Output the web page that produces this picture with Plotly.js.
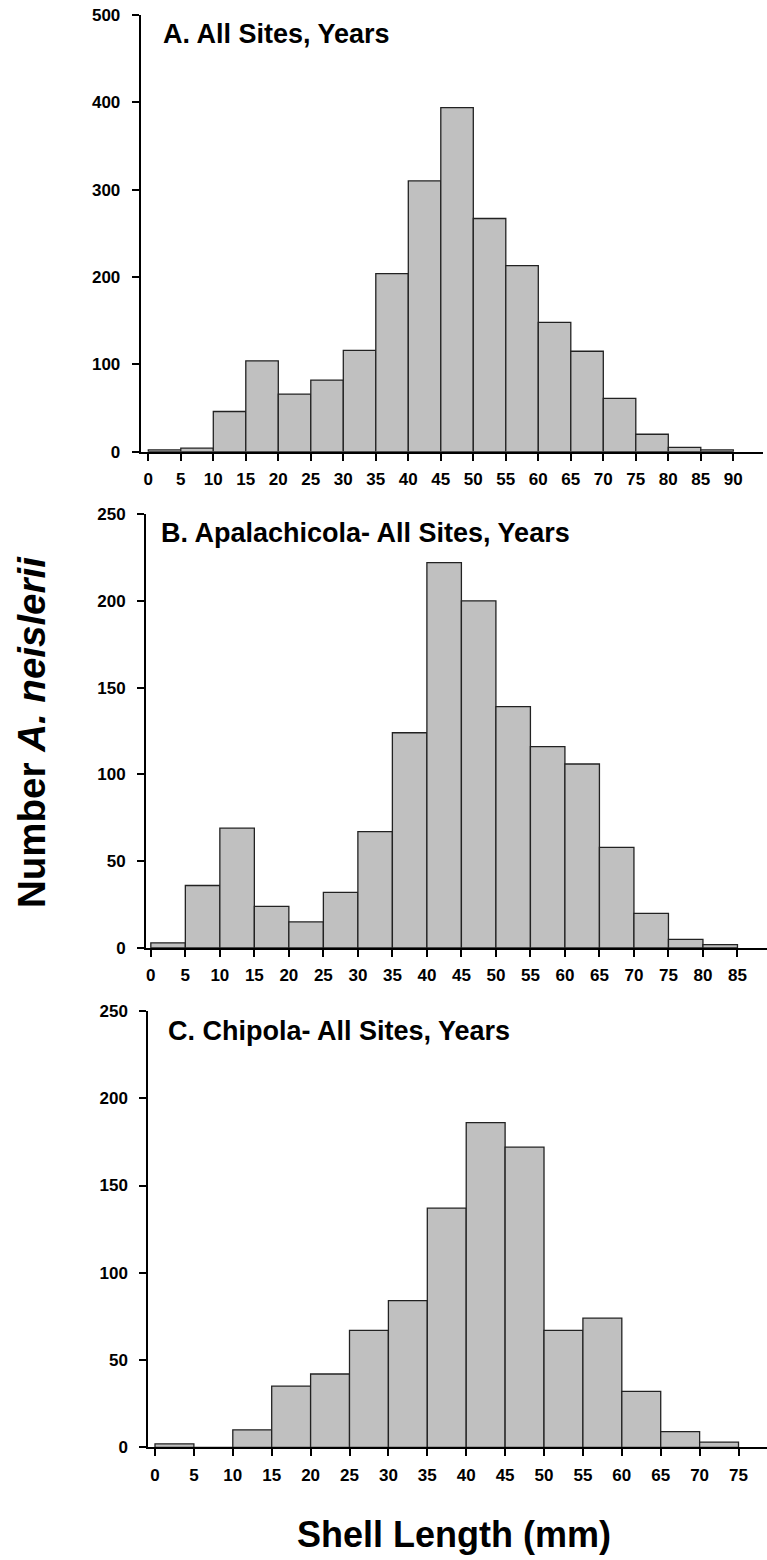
<!DOCTYPE html>
<html>
<head>
<meta charset="utf-8">
<script src="https://cdn.plot.ly/plotly-3.0.1.min.js"></script>
<style>html,body{margin:0;padding:0;background:#fff;}#chart{width:767px;height:1560px;}</style>
</head>
<body>
<div id="chart"></div>
<script>
// Bin starts (mm), 5 mm bins
const binsA = [0,5,10,15,20,25,30,35,40,45,50,55,60,65,70,75,80,85];
const countsA = [2,4,46,104,66,82,116,204,310,394,267,213,148,115,61,20,5,2];
const binsB = [0,5,10,15,20,25,30,35,40,45,50,55,60,65,70,75,80];
const countsB = [3,36,69,24,15,32,67,124,222,200,139,116,106,58,20,5,2];
const binsC = [0,5,10,15,20,25,30,35,40,45,50,55,60,65,70];
const countsC = [2,0,10,35,42,67,84,137,186,172,67,74,32,9,3];

const ticksA = [0,5,10,15,20,25,30,35,40,45,50,55,60,65,70,75,80,85,90];
const ticksB = [0,5,10,15,20,25,30,35,40,45,50,55,60,65,70,75,80,85];
const ticksC = [0,5,10,15,20,25,30,35,40,45,50,55,60,65,70,75];
const yTicksA = [0,100,200,300,400,500];
const yTicksBC = [0,50,100,150,200,250];

const titleA = "A. All Sites, Years";
const titleB = "B. Apalachicola- All Sites, Years";
const titleC = "C. Chipola- All Sites, Years";
const xTitle = "Shell Length (mm)";
const yTitle = "Number <i>A. neislerii</i>";

const FONT = "Liberation Sans, Arial, sans-serif";
const tickFont = {family: FONT, size: 17, color: "#000", weight: "bold"};

function barTrace(x, y, xa, ya) {
  return {
    type: "bar", x: x, y: y, width: 5, offset: 0,
    xaxis: xa, yaxis: ya,
    marker: {color: "#c0c0c0", line: {color: "#222", width: 1.3}},
    hoverinfo: "x+y", showlegend: false
  };
}

function xAx(domain, range, ticks, anchor) {
  return {
    domain: domain, range: range, anchor: anchor,
    tickmode: "array", tickvals: ticks, ticktext: ticks.map(String),
    ticks: "outside", ticklen: 7, tickwidth: 2, tickcolor: "#000",
    showline: true, linecolor: "#000", linewidth: 2,
    showgrid: false, zeroline: false, tickfont: tickFont,
    ticklabelstandoff: 4, fixedrange: true
  };
}
function yAx(domain, range, ticks, anchor) {
  return {
    domain: domain, range: range, anchor: anchor,
    tickmode: "array", tickvals: ticks, ticktext: ticks.map(String),
    ticks: "outside", ticklen: 7, tickwidth: 2, tickcolor: "#000",
    showline: true, linecolor: "#000", linewidth: 2,
    showgrid: false, zeroline: false, tickfont: tickFont,
    ticklabelstandoff: 8, fixedrange: true
  };
}

const H = 1560, W = 767;
const data = [
  barTrace(binsA, countsA, "x", "y"),
  barTrace(binsB, countsB, "x2", "y2"),
  barTrace(binsC, countsC, "x3", "y3")
];

const layout = {
  width: W, height: H,
  margin: {l: 0, r: 0, t: 0, b: 0},
  paper_bgcolor: "#fff", plot_bgcolor: "#fff",
  bargap: 0,
  xaxis: xAx([140.7/W, 763/W], [-1.17, 94.57], ticksA, "y"),
  yaxis: yAx([1-451.7/H, 1-15/H], [0, 500], yTicksA, "x"),
  xaxis2: xAx([146/W, 1], [-0.7, 89.28], ticksB, "y2"),
  yaxis2: yAx([1-948/H, 1-514/H], [0, 250], yTicksBC, "x2"),
  xaxis3: xAx([148.3/W, 1], [-0.86, 78.66], ticksC, "y3"),
  yaxis3: yAx([1-1447.3/H, 1-1011/H], [0, 250], yTicksBC, "x3"),
  annotations: [
    {text: titleA, xref: "paper", yref: "paper", x: 161/W, y: 1-34/H, xanchor: "left", yanchor: "middle", showarrow: false,
     font: {family: FONT, size: 27, color: "#000", weight: "bold"}},
    {text: titleB, xref: "paper", yref: "paper", x: 159/W, y: 1-533/H, xanchor: "left", yanchor: "middle", showarrow: false,
     font: {family: FONT, size: 27, color: "#000", weight: "bold"}},
    {text: titleC, xref: "paper", yref: "paper", x: 166/W, y: 1-1031/H, xanchor: "left", yanchor: "middle", showarrow: false,
     font: {family: FONT, size: 27, color: "#000", weight: "bold"}},
    {text: xTitle, xref: "paper", yref: "paper", x: 454/W, y: 1-1534/H, xanchor: "center", yanchor: "middle", showarrow: false,
     font: {family: FONT, size: 36, color: "#000", weight: "bold"}},
    {text: yTitle, xref: "paper", yref: "paper", x: 31/W, y: 1-732/H, xanchor: "center", yanchor: "middle", showarrow: false, textangle: -90,
     font: {family: FONT, size: 38.5, color: "#000", weight: "bold"}}
  ]
};

Plotly.newPlot("chart", data, layout, {displayModeBar: false, staticPlot: true});
</script>
</body>
</html>
